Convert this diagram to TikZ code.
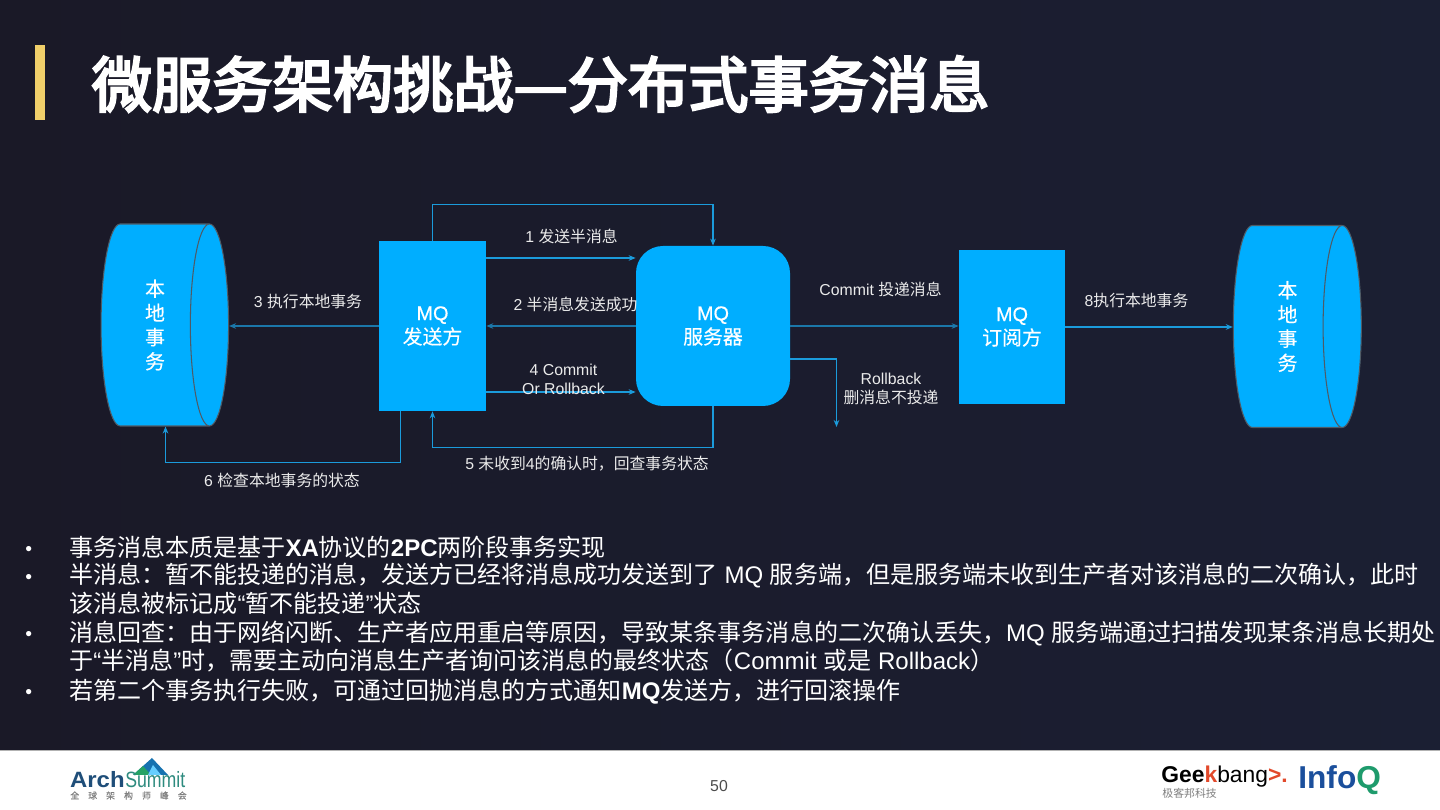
\documentclass[tikz,border=0pt]{standalone}
\usepackage{fontspec}
\setmainfont{Liberation Sans}
\newfontfamily\cjk{Noto Sans CJK SC}
\newfontfamily\cjkmed[FakeBold=0.35]{Noto Sans CJK SC}
\newfontfamily\cjktitle[FakeBold=4]{Noto Sans CJK SC}
\newfontfamily\latinmed[FakeBold=0.5]{Liberation Sans}
\newcommand{\cn}[1]{{\cjk #1}}
\newcommand{\cm}[1]{{\cjkmed #1}}
\usepackage{xcolor}
\usetikzlibrary{positioning, calc, arrows.meta, shapes.geometric}
\definecolor{bgleft}{HTML}{1A1927}
\definecolor{bgmid}{HTML}{1A1A29}
\definecolor{bgright}{HTML}{1B1F33}
\definecolor{boxblue}{HTML}{00AEFF}
\definecolor{linkblue}{HTML}{1B9BDB}
\definecolor{storeedge}{HTML}{4F5B66}
\definecolor{accent}{HTML}{F0CF6A}
\definecolor{archnavy}{HTML}{1F4E79}
\definecolor{archteal}{HTML}{2E8B7F}
\definecolor{geekred}{HTML}{E2492B}
\definecolor{infoblue}{HTML}{1B4F9C}
\definecolor{infogreen}{HTML}{1E9B6C}

\begin{document}
\begin{tikzpicture}[
    box/.style={fill=boxblue, text=white, align=center, inner sep=0pt,
                execute at begin node=\rule{0pt}{10.4pt},
                font=\fontsize{11.3}{13.6}\latinmed\selectfont},
    store/.style={cylinder, shape aspect=0.42, cylinder uses custom fill,
                  cylinder body fill=boxblue, cylinder end fill=boxblue,
                  draw=storeedge, line width=0.6pt, text=white, align=center,
                  inner sep=0pt, execute at begin node=\rule{0pt}{10.4pt},
                  font=\fontsize{11.3}{13.8}\selectfont},
    arw/.style={-{Stealth[length=4pt, width=3.2pt]}, draw=linkblue, line width=0.6pt},
    dim/.style={draw=linkblue!72!bgleft},
    lbl/.style={text=white!92!black, align=center, inner sep=0pt,
                font=\fontsize{9}{10.8}\selectfont},
    para/.style={text=white, align=left, anchor=west, inner sep=0pt,
                 font=\fontsize{13.67}{16.3}\selectfont},
]
\useasboundingbox (0, 0) rectangle (28.8, 16.2);

% --- Background ---
\fill[left color=bgleft, middle color=bgmid, right color=bgright] (0, 1.2) rectangle (28.8, 16.2);
\fill[white] (0, 0) rectangle (28.8, 1.2);
\draw[gray!60, line width=0.5pt] (0, 1.2) -- (28.8, 1.2);

% --- Title ---
\fill[accent] (0.7, 13.8) rectangle (0.9, 15.3);
\node[anchor=west, inner sep=0pt, text=white, font=\fontsize{34.3}{40}\cjktitle\selectfont] (title) at (1.83, 14.52)
    {微服务架构挑战—分布式事务消息};

% --- Stores ---
\node[store, minimum width=4.04cm, minimum height=2.55cm] (storea) at (3.10, 9.70)
    {\cm{本}\\\cm{地}\\\cm{事}\\\cm{务}};
\node[store, minimum width=4.04cm, minimum height=2.56cm] (storeb) at (25.75, 9.67)
    {\cm{本}\\\cm{地}\\\cm{事}\\\cm{务}};

% --- Sender ---
\node[box, minimum width=2.14cm, minimum height=3.40cm] (sender) at (8.65, 9.68)
    {MQ\\\cm{发送方}};

% --- Server ---
\node[box, rounded corners=0.54cm, minimum width=3.08cm, minimum height=3.20cm] (server) at (14.26, 9.68)
    {MQ\\\cm{服务器}};

% --- Subscriber ---
\node[box, minimum width=2.12cm, minimum height=3.08cm] (subscriber) at (20.24, 9.66)
    {MQ\\\cm{订阅方}};

% --- Rollback end ---
\coordinate (rollend) at (16.73, 7.66);

% --- Connectors ---
\draw[arw] (sender.north) -- ++(0, 0.72) -| (server.north);
\draw[arw] ([yshift=1.36cm]sender.east) -- ([yshift=1.36cm]server.west |- sender.east);
\draw[arw, dim] (server.west) -- (sender.east);
\draw[arw, dim] (sender.west) -- (storea.east |- sender.west);
\draw[arw] ([yshift=-1.32cm]sender.east) -- ([yshift=-1.32cm]server.west |- sender.east);
\draw[arw] (server.south) -- ++(0, -0.82) -| (sender.south);
\draw[arw] ([xshift=-0.64cm]sender.south) -- ++(0, -1.03) -| ([xshift=0.21cm]storea.south);
\draw[arw, dim] (server.east) -- (subscriber.west |- server.east);
\draw[arw] ([yshift=-0.66cm]server.east) -| (rollend);
\draw[arw] (subscriber.east) -- (storeb.west |- subscriber.east);

% --- Labels ---
\node[lbl] (lbl1) at (11.43, 11.48) {1 \cn{发送半消息}};
\node[lbl] (lbl2) at (11.51, 10.12) {2 \cn{半消息发送成功}};
\node[lbl] (lbl3) at (6.16, 10.16) {3 \cn{执行本地事务}};
\node[lbl] (lbl4) at (11.27, 8.61) {4 Commit\\Or Rollback};
\node[lbl] (lbl5) at (11.74, 6.92) {5 \cn{未收到}4\cn{的确认时，回查事务状态}};
\node[lbl] (lbl6) at (5.64, 6.59) {6 \cn{检查本地事务的状态}};
\node[lbl] (lblcommit) at (17.61, 10.42) {Commit \cn{投递消息}};
\node[lbl] (lblroll) at (17.82, 8.43) {Rollback\\\cn{删消息不投递}};
\node[lbl] (lbl8) at (22.73, 10.18) {8\cn{执行本地事务}};

% --- Bullets ---
\foreach \y [count=\i] in {5.19, 4.63, 3.48, 2.32}
    \node[para, font=\fontsize{11}{13}\selectfont] (dot\i) at (0.5, \y) {•};
\node[para] (para1) at (1.38, 5.26)
    {\cn{事务消息本质是基于}\textbf{XA}\cn{协议的}\textbf{2PC}\cn{两阶段事务实现}};
\node[para] (para2) at (1.38, 4.42)
    {\cn{半消息：暂不能投递的消息，发送方已经将消息成功发送到了} MQ \cn{服务端，但是服务端未收到生产者对该消息的二次确认，此时}\\
     \cn{该消息被标记成}“\cn{暂不能投递}”\cn{状态}};
\node[para] (para3) at (1.38, 3.27)
    {\cn{消息回查：由于网络闪断、生产者应用重启等原因，导致某条事务消息的二次确认丢失，}MQ \cn{服务端通过扫描发现某条消息长期处}\\
     \cn{于}“\cn{半消息}”\cn{时，需要主动向消息生产者询问该消息的最终状态（}Commit \cn{或是} Rollback\cn{）}};
\node[para] (para4) at (1.38, 2.36)
    {\cn{若第二个事务执行失败，可通过回抛消息的方式通知}\textbf{MQ}\cn{发送方，进行回滚操作}};

% --- Footer ---
\node[text=black!70, inner sep=0pt, font=\fontsize{9}{11}\selectfont] (page) at (14.38, 0.48) {50};

% --- ArchSummit ---
\fill[infoblue!80!cyan] (2.66, 0.70) -- (3.04, 1.04) -- (3.36, 0.70) -- cycle;
\fill[archteal!80!green] (2.66, 0.70) -- (2.86, 0.88) -- (3.02, 0.70) -- cycle;
\fill[boxblue!60!white] (2.96, 0.70) -- (3.06, 0.90) -- (3.22, 0.70) -- cycle;
\node[anchor=east, inner sep=0pt, text=archnavy, xscale=1.08, font=\fontsize{12.6}{15}\selectfont\bfseries] (arch) at (2.50, 0.60) {Arch};
\node[anchor=west, inner sep=0pt, text=archteal, xscale=0.8, font=\fontsize{12.6}{15}\selectfont] (summit) at (2.50, 0.60) {Summit};
\node[anchor=west, inner sep=0pt, text=gray, font=\fontsize{5}{6}\cjkmed\selectfont] (archsub) at (1.40, 0.29)
    {全\hspace{5.2pt}球\hspace{5.2pt}架\hspace{5.2pt}构\hspace{5.2pt}师\hspace{5.2pt}峰\hspace{5.2pt}会};

% --- Geekbang ---
\node[anchor=west, inner sep=0pt, font=\fontsize{13}{15}\selectfont] (geek) at (23.22, 0.66)
    {\textbf{Gee}\textcolor{geekred}{\textbf{k}}bang\textcolor{geekred}{\textbf{>.}}};
\node[anchor=west, inner sep=0pt, text=gray, font=\fontsize{6.2}{7}\cjk\selectfont] (geeksub) at (23.24, 0.34) {极客邦科技};

% --- InfoQ ---
\node[anchor=west, inner sep=0pt, font=\fontsize{18}{20}\selectfont\bfseries] (infoq) at (25.96, 0.59)
    {\textcolor{infoblue}{Info}\textcolor{infogreen}{Q}};
\end{tikzpicture}
\end{document}
